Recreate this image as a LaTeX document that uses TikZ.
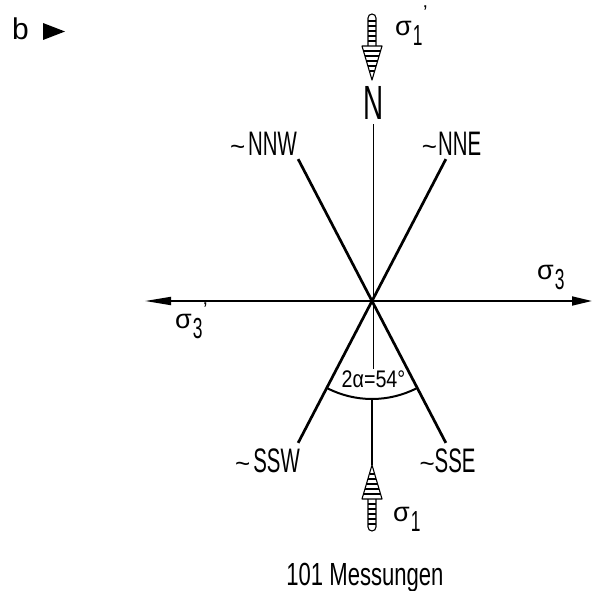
\documentclass[tikz,border=0pt]{standalone}
\usepackage{fontspec}
\setmainfont{Liberation Sans}
\newfontfamily\lblfam{Liberation Sans}[FakeStretch=0.6]
\newfontfamily\nfam{Liberation Sans}[FakeStretch=0.58]
\newfontfamily\widefam{Liberation Sans}[FakeStretch=0.69]
\newfontfamily\angfam{Liberation Sans}[FakeStretch=0.82]
\newcommand\lblfont{\lblfam\fontsize{34}{34}\selectfont}
\newcommand\nfont{\nfam\fontsize{48}{48}\selectfont}
\newcommand\capfont{\widefam\fontsize{32}{32}\selectfont}
\newcommand\sigfont{\fontsize{27}{27}\selectfont}
\newcommand\tld{{\rmfamily\fontsize{26}{26}\selectfont\textasciitilde}}
\newcommand\subdig[1]{{\lblfam\fontsize{29}{29}\selectfont #1}}
\newcommand\sigsub[1]{σ\hspace{1pt}\raisebox{-10pt}{\subdig{#1}}}
\newcommand\sigsubp[2]{σ\hspace{1pt}\raisebox{-10pt}{\subdig{#1}}\hspace{0.5pt}\raisebox{#2}{\fontsize{20}{20}\selectfont '}}
\usetikzlibrary{arrows.meta}
\tikzset{
  pressarrow/.pic={
    \draw[line width=1.1pt, line join=round, fill=white] (-10,-34) -- (0,0) -- (10,-34) -- cycle;
    \foreach \yy/\hw in {-29/8.5,-24/7.0,-19/5.5,-14/4.0,-9/2.5}
      \draw[line width=1.3pt] (-\hw,\yy) -- (\hw,\yy);
    \draw[line width=1.1pt] (-4,-34) -- (-4,-62) arc[start angle=180,end angle=360,radius=4] -- (4,-34);
    \foreach \yy in {-39,-44,-49,-54,-59}
      \draw[line width=1.1pt] (-4,\yy) -- (4,\yy);
  }
}
\begin{document}
\begin{tikzpicture}[x=1pt,y=-1pt,
  strike/.style={line width=2.7pt},
  axis/.style={line width=1.8pt},
  vaxis/.style={line width=1.2pt},
  lbl/.style={inner sep=0pt, anchor=base, font=\lblfont},
  sig/.style={inner sep=0pt, anchor=base west, font=\sigfont}]
\useasboundingbox (0,0) rectangle (594,591);

% panel mark
\node[inner sep=0pt, anchor=base west, font=\fontsize{30}{30}\selectfont] (b) at (12,40) {b};
\fill (43,23) -- (65,31.5) -- (43,40) -- cycle;

% centre and end points
\coordinate (c) at (372,301);
\path (c) ++(-117.5:160) coordinate (nnw);
\path (c) ++(-62.5:160) coordinate (nne);
\path (c) ++(117.5:160) coordinate (ssw);
\path (c) ++(62.5:160) coordinate (sse);
\coordinate (hl) at (145,301);
\coordinate (hr) at (592,301);
\coordinate (ttip) at (372,80);
\coordinate (btip) at (372,465);

% labels
\node[inner sep=0pt, anchor=base, font=\nfont] (N) at (373.5,120) {N};
\node[lbl] (lnnw) at (263.5,155) {\tld\hspace{3pt}NNW};
\node[lbl] (lnne) at (451.5,155) {\tld\hspace{1pt}NNE};
\node[lbl] (lssw) at (267.5,472) {\tld\hspace{3pt}SSW};
\node[lbl] (lsse) at (447.5,472) {\tld SSE};
\node[inner sep=1pt, anchor=base, font=\angfam\fontsize{24}{24}\selectfont] (ang) at (373.5,387) {2α=54°};
\node[inner sep=0pt, anchor=base, font=\capfont] (cap) at (365,585) {101 Messungen};

\node[sig] (s1p) at (395,36) {\sigsubp{1}{16pt}};
\node[sig] (s1) at (393,521) {\sigsub{1}};
\node[sig] (s3p) at (175,328) {\sigsubp{3}{12pt}};
\node[sig] (s3) at (537,279) {\sigsub{3}};

% strike lines
\draw[strike] (nnw) -- (sse);
\draw[strike] (nne) -- (ssw);

% horizontal axis
\draw[axis, -{Triangle[length=26pt,width=8pt]}] (c) -- (hl);
\draw[axis, -{Triangle[length=20pt,width=9pt]}] (c) -- (hr);

% angle arc
\path (c) ++(117.5:98) coordinate (arcl);
\path (c) ++(90:98) coordinate (arcm);
\draw[line width=2pt] (arcl) arc[start angle=117.5,end angle=62.5,radius=98];

% vertical axis
\draw[vaxis, shorten <=4pt] (N.south) -- (ang.north);
\draw[vaxis] (arcm) -- (btip);

% pressure arrows
\pic at (ttip) {pressarrow};
\pic[yscale=-1] at (btip) {pressarrow};
\end{tikzpicture}
\end{document}
